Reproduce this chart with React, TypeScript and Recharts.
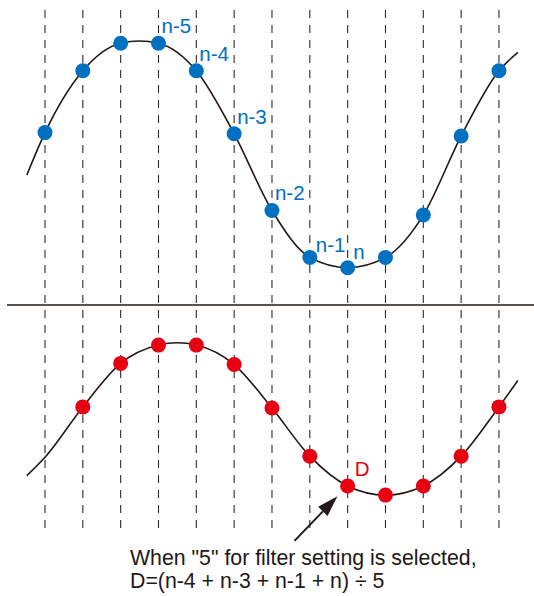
import React from "react";
import { ComposedChart, Line, XAxis, YAxis, ReferenceLine, LabelList } from "recharts";

// sample positions (one per dashed line)
const sampleIndex = [0, 1, 2, 3, 4, 5, 6, 7, 8, 9, 10, 11, 12];

// raw signal (blue)
const rawValues = [0.2, 0.74, 0.98, 0.98, 0.74, 0.19, -0.48, -0.89, -0.98, -0.89, -0.52, 0.17, 0.74];
const rawLabels = ["", "", "", "n-5", "n-4", "n-3", "n-2", "n-1", "n", "", "", "", ""];
const rawCurveX = [-0.48, 0, 1, 2, 2.5, 3, 4, 5, 6, 7, 8, 9, 10, 11, 12, 12.5];
const rawCurveY = [-0.17, 0.2, 0.74, 0.98, 1.0, 0.98, 0.74, 0.19, -0.48, -0.89, -0.98, -0.89, -0.52, 0.17, 0.74, 0.9];

// filtered signal (red)
const filteredIndex = [1, 2, 3, 4, 5, 6, 7, 8, 9, 10, 11, 12];
const filteredValues = [0.11, 0.49, 0.65, 0.65, 0.48, 0.1, -0.32, -0.58, -0.66, -0.58, -0.32, 0.11];
const filteredLabels = ["", "", "", "", "", "", "", "D", "", "", "", ""];
const filteredCurveX = [-0.48, 0, 1, 2, 3, 3.5, 4, 5, 6, 7, 8, 9, 10, 11, 12, 12.5];
const filteredCurveY = [-0.49, -0.33, 0.11, 0.49, 0.65, 0.67, 0.65, 0.48, 0.1, -0.32, -0.58, -0.66, -0.58, -0.32, 0.11, 0.34];

const noteLines = ['When "5" for filter setting is selected,', "D=(n-4 + n-3 + n-1 + n) ÷ 5"];

const BLUE = "#0070c0";
const RED = "#e60012";
const INK = "#231815";
const FONT = "'Liberation Sans', Arial, Helvetica, sans-serif";

const X_DOMAIN = [-38 / 37.83, 489 / 37.83];
const TOP_DOMAIN = [-3.297, 1.271];
const BOTTOM_DOMAIN = [-0.991, 3.576];

const rawPoints = sampleIndex.map((x, i) => ({ x, y: rawValues[i], label: rawLabels[i] }));
const rawCurve = rawCurveX.map((x, i) => ({ x, y: rawCurveY[i] }));
const filteredPoints = filteredIndex.map((x, i) => ({ x, y: filteredValues[i], label: filteredLabels[i] }));
const filteredCurve = filteredCurveX.map((x, i) => ({ x, y: filteredCurveY[i] }));

const nudge: Record<string, [number, number]> = {
  "n-1": [6, -5],
  n: [5.5, -9],
  D: [7, -10],
};

const makeLabel = (color: string) => (p: any) => {
  if (!p.value) return null;
  const [dx, dy] = nudge[p.value] || [3, -10];
  return (
    <text x={p.x + dx} y={p.y + dy} fill={color} fontSize={20.5} fontFamily={FONT}>
      {p.value}
    </text>
  );
};

const Arrow = (p: any) => {
  const { x1, y1, x2, y2 } = p;
  const [tx, ty, sx, sy] = x2 > x1 ? [x2, y2, x1, y1] : [x1, y1, x2, y2];
  const ang = Math.atan2(ty - sy, tx - sx);
  const len = 21;
  const half = 6.5;
  const bx = tx - len * Math.cos(ang);
  const by = ty - len * Math.sin(ang);
  const px = -Math.sin(ang) * half;
  const py = Math.cos(ang) * half;
  return (
    <g>
      <line x1={sx} y1={sy} x2={bx} y2={by} stroke={INK} strokeWidth={2} />
      <polygon points={`${tx},${ty} ${bx + px},${by + py} ${bx - px},${by - py}`} fill={INK} />
    </g>
  );
};

export default function App() {
  return (
    <div style={{ position: "absolute", left: 0, top: 0, width: 534, height: 596, fontFamily: FONT, background: "#fff" }}>
      <ComposedChart width={534} height={596} margin={{ top: 10, right: 0, bottom: 63, left: 7 }}>
        <XAxis type="number" dataKey="x" domain={X_DOMAIN} allowDataOverflow hide />
        <YAxis yAxisId="top" type="number" domain={TOP_DOMAIN} allowDataOverflow hide />
        <YAxis yAxisId="bottom" type="number" domain={BOTTOM_DOMAIN} allowDataOverflow hide />

        {sampleIndex.map((x) => (
          <ReferenceLine
            key={x}
            yAxisId="top"
            segment={[
              { x, y: TOP_DOMAIN[1] },
              { x, y: TOP_DOMAIN[0] },
            ]}
            stroke="#2e2a29"
            strokeWidth={1.1}
            strokeDasharray="8 7"
          />
        ))}
        <ReferenceLine yAxisId="bottom" y={1} stroke={INK} strokeWidth={1.5} />

        <Line
          yAxisId="top"
          data={rawCurve}
          dataKey="y"
          type="monotone"
          stroke={INK}
          strokeWidth={1.6}
          dot={false}
          activeDot={false}
          isAnimationActive={false}
        />
        <Line
          yAxisId="top"
          data={rawPoints}
          dataKey="y"
          stroke="none"
          dot={{ r: 7.5, fill: BLUE, stroke: "none" }}
          activeDot={false}
          isAnimationActive={false}
        >
          <LabelList dataKey="label" content={makeLabel(BLUE)} />
        </Line>

        <Line
          yAxisId="bottom"
          data={filteredCurve}
          dataKey="y"
          type="monotone"
          stroke={INK}
          strokeWidth={1.6}
          dot={false}
          activeDot={false}
          isAnimationActive={false}
        />
        <Line
          yAxisId="bottom"
          data={filteredPoints}
          dataKey="y"
          stroke="none"
          dot={{ r: 7.5, fill: RED, stroke: "none" }}
          activeDot={false}
          isAnimationActive={false}
        >
          <LabelList dataKey="label" content={makeLabel(RED)} />
        </Line>

        <ReferenceLine
          yAxisId="bottom"
          ifOverflow="visible"
          segment={[
            { x: 6.595, y: -1.06 },
            { x: 7.73, y: -0.67 },
          ]}
          shape={Arrow}
        />
      </ComposedChart>

      {noteLines.map((t, i) => (
        <div
          key={i}
          style={{
            position: "absolute",
            left: 130,
            top: 547 + i * 23.3,
            fontSize: 21.3,
            lineHeight: "23.5px",
            color: INK,
            whiteSpace: "nowrap",
          }}
        >
          {t}
        </div>
      ))}
    </div>
  );
}
